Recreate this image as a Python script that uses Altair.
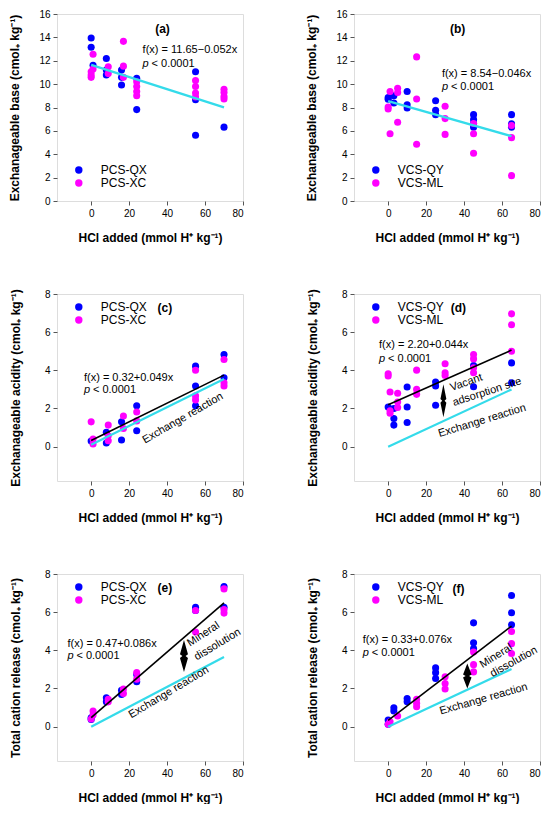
import altair as alt
import pandas as pd

BLUE = "#0000ff"
MAG = "#ff00ff"
CYAN = "#34dbea"
FONT = "Liberation Sans"

# ---------------- data ----------------
# (a) exchangeable base, PCS
a_s1_x = [0, 0, 1, 8, 8, 8, 16, 16, 16, 24, 24, 55, 55, 55, 70]
a_s1_y = [13.94, 13.15, 11.62, 12.19, 11.2, 10.78, 11.2, 10.58, 9.93, 10.5, 7.82, 11.06, 8.66, 5.62, 6.32]
a_s2_x = [1, 1, 0, 0, 0, 9, 9, 17, 17, 17, 24, 24, 24, 24, 55, 55, 55, 55, 70, 70, 70, 70]
a_s2_y = [12.56, 11.3, 11.06, 10.78, 10.58, 11.48, 10.9, 13.66, 11.54, 10.58, 10.21, 9.79, 9.37, 9.0,
          10.3, 9.79, 9.23, 8.9, 9.56, 9.28, 8.94, 8.72]
# (b) exchangeable base, VCS
b_s1_x = [0, 0, 3, 3, 10, 10, 10, 25, 25, 25, 45, 45, 45, 45, 65, 65, 65]
b_s1_y = [8.86, 8.7, 9.0, 8.38, 9.37, 8.24, 7.96, 8.58, 7.76, 7.39, 7.39, 6.97, 6.63, 6.32, 7.39, 6.6, 6.32]
b_s2_x = [0, 0, 1, 1, 5, 5, 5, 15, 15, 15, 30, 30, 30, 45, 45, 45, 65, 65, 65]
b_s2_y = [8.04, 7.87, 9.37, 5.76, 9.65, 9.28, 6.74, 12.33, 8.72, 4.85, 8.1, 7.05, 5.7, 6.63, 5.76, 4.09,
          6.46, 5.42, 2.17]
# (c) exchangeable acidity, PCS
c_s1_x = [0, 8, 8, 16, 16, 24, 24, 55, 55, 55, 70, 70]
c_s1_y = [0.3, 0.75, 0.19, 1.3, 0.35, 2.14, 0.83, 4.22, 3.18, 2.14, 4.83, 3.61]
c_s2_x = [0, 1, 1, 9, 9, 9, 17, 17, 24, 24, 55, 55, 55, 70, 70, 70]
c_s2_y = [1.3, 0.4, 0.14, 1.13, 0.57, 0.31, 1.61, 0.95, 1.82, 1.35, 4.0, 2.66, 2.45, 4.57, 3.35, 3.18]
# (d) exchangeable acidity, VCS
d_s1_x = [0, 3, 3, 3, 10, 10, 10, 25, 25, 25, 45, 45, 65, 65]
d_s1_y = [2.08, 2.0, 1.48, 1.13, 3.13, 2.08, 1.27, 3.39, 3.18, 2.17, 4.25, 3.14, 4.39, 3.35]
d_s2_x = [0, 0, 1, 1, 1, 5, 5, 5, 15, 15, 15, 30, 30, 30, 45, 45, 45, 45, 65, 65, 65]
d_s2_y = [3.82, 3.7, 2.86, 1.88, 1.75, 2.8, 2.34, 2.05, 4.01, 3.0, 2.74, 4.34, 3.87, 3.73,
          4.83, 4.6, 4.13, 3.87, 6.96, 6.39, 5.0]
# (e) total cation release, PCS
e_s1_x = [0, 0, 8, 8, 16, 16, 24, 24, 55, 55, 70, 70]
e_s1_y = [0.47, 0.38, 1.51, 1.3, 1.91, 1.69, 2.73, 2.35, 6.26, 6.09, 7.34, 6.26]
e_s2_x = [0, 1, 1, 9, 9, 17, 17, 24, 24, 55, 55, 70, 70, 70]
e_s2_y = [0.4, 0.82, 0.61, 1.44, 1.3, 1.97, 1.74, 2.83, 2.49, 6.09, 4.96, 7.22, 6.14, 5.95]
# (f) total cation release, VCS
f_s1_x = [0, 0, 3, 3, 10, 10, 25, 25, 25, 45, 45, 45, 65, 65, 65]
f_s1_y = [0.35, 0.12, 0.99, 0.82, 1.48, 1.3, 3.08, 2.83, 2.52, 5.44, 4.4, 4.09, 6.87, 5.97, 5.34]
f_s2_x = [0, 1, 5, 15, 15, 15, 30, 30, 30, 45, 45, 45, 65, 65, 65]
f_s2_y = [0.12, 0.26, 0.56, 1.44, 1.22, 1.04, 2.61, 2.26, 1.97, 3.91, 3.25, 2.87, 4.99, 4.35, 3.83]

PCS = ["PCS-QX", "PCS-XC"]
VCS = ["VCS-QY", "VCS-ML"]

# regression lines (fitted) and exchange-reaction lines: endpoints
reg_x = {"a": [0, 70], "b": [0, 65], "c": [0, 70], "d": [0, 65], "e": [0, 70], "f": [0, 65]}
reg_y = {"a": [11.65, 8.01], "b": [8.54, 5.55], "c": [0.32, 3.75], "d": [2.20, 5.06],
         "e": [0.47, 6.49], "f": [0.33, 5.27]}
exch_x = {"c": [0, 70], "d": [0, 65], "e": [0, 70], "f": [0, 65]}
exch_y = {"c": [0.1, 3.55], "d": [0.0, 3.0], "e": [0.0, 3.65], "f": [0.0, 3.02]}

formulas = {"a": "f(x) = 11.65\u22120.052x", "b": "f(x) = 8.54\u22120.046x", "c": "f(x) = 0.32+0.049x",
            "d": "f(x) = 2.20+0.044x", "e": "f(x) = 0.47+0.086x", "f": "f(x) = 0.33+0.076x"}
form_x = {"a": 27.1, "b": 28.3, "c": -3.8, "d": -4.8, "e": -12.5, "f": -13.4}
form_y = {"a": 12.95, "b": 10.85, "c": 3.61, "d": 5.35, "e": 4.35, "f": 4.52}
pval_y = {"a": 11.75, "b": 9.75, "c": 2.97, "d": 4.6, "e": 3.7, "f": 3.88}

lab_x = {"a": 37.6, "b": 36.6, "c": 38.8, "d": 37.0, "e": 38.8, "f": 37.0}
lab_y = {"a": 14.7, "b": 14.7, "c": 7.25, "d": 7.25, "e": 7.25, "f": 7.2}

# rotated annotations: (text, x, y, angle)
notes = {
    "c": [("Exchange reaction", 48.3, 1.48, 330)],
    "d": [("Vacant", 41.2, 3.35, 341), ("adsorption site", 52.1, 2.86, 342),
          ("Exchange reaction", 49.5, 1.35, 343)],
    "e": [("Mineral", 59.2, 4.84, 327), ("dissolution", 66.6, 4.3, 329),
          ("Exchange reaction", 40.9, 1.79, 329)],
    "f": [("Mineral", 56.9, 3.7, 328), ("dissolution", 66.2, 3.39, 331),
          ("Exchange reaction", 50.3, 1.44, 344)],
}
# double arrows: x, y-centre, pixel height, half-width
arrows = {"d": (29.1, 2.4, 33, 0.18), "e": (48.9, 3.7, 32, 0.25), "f": (41.7, 2.66, 25, 0.34)}

XT = "HCl added (mmol H\u207a kg\u207b\u00b9)"
YT = {"a": "Exchanageable base (cmol\u208a kg\u207b\u00b9)",
      "b": "Exchanageable base (cmol\u208a kg\u207b\u00b9)",
      "c": "Exchanageable acidity (cmol\u208a kg\u207b\u00b9)",
      "d": "Exchanageable acidity (cmol\u208a kg\u207b\u00b9)",
      "e": "Total cation release (cmol\u208a kg\u207b\u00b9)",
      "f": "Total cation release (cmol\u208a kg\u207b\u00b9)"}

W = 186
H = 187


def panel(key, s1x, s1y, s2x, s2y, names, ydom, yvals, leg_y, ytp):
    xs = alt.Scale(domain=[-18, 80], nice=False, zero=False)
    ys = alt.Scale(domain=ydom, nice=False, zero=False)
    axis_common = dict(domain=False, grid=False, ticks=True, tickSize=4, tickColor="#555555",
                       tickWidth=1, labelFont=FONT, labelFontSize=10, labelColor="black",
                       labelPadding=3, labelOverlap=False, titleFont=FONT, titleFontSize=12,
                       titleFontWeight="bold", titleColor="black")
    xax = alt.Axis(values=[0, 20, 40, 60, 80], title=XT, titlePadding=14, **axis_common)
    yax = alt.Axis(values=yvals, title=YT[key], titlePadding=ytp, **axis_common)

    def X(f="x"):
        return alt.X(f + ":Q", scale=xs, axis=xax)

    def Y(f="y"):
        return alt.Y(f + ":Q", scale=ys, axis=yax)

    pts = pd.DataFrame({
        "x": s1x + s2x,
        "y": s1y + s2y,
        "s": [names[0]] * len(s1x) + [names[1]] * len(s2x),
        "o": list(range(len(s1x) + len(s2x))),
    })
    points = alt.Chart(pts).mark_circle(size=50, opacity=1).encode(
        x=X(), y=Y(),
        color=alt.Color("s:N", scale=alt.Scale(domain=names, range=[BLUE, MAG]),
                        legend=alt.Legend(orient="none", legendX=15.8, legendY=leg_y, title=None,
                                          symbolSize=55, symbolType="circle", labelFontSize=12,
                                          labelFont=FONT, labelOffset=16, padding=0, rowPadding=1,
                                          symbolStrokeWidth=0)),
        order=alt.Order("o:Q"),
    )
    layers = [points]

    if key in exch_x:
        ex = pd.DataFrame({"x": exch_x[key], "y": exch_y[key]})
        layers.append(alt.Chart(ex).mark_line(color=CYAN, strokeWidth=2.2).encode(x=X(), y=Y()))
        rcol, rw = "black", 1.6
    else:
        rcol, rw = CYAN, 2.4
    rg = pd.DataFrame({"x": reg_x[key], "y": reg_y[key]})
    layers.append(alt.Chart(rg).mark_line(color=rcol, strokeWidth=rw).encode(x=X(), y=Y()))

    ft = pd.DataFrame({"x": [form_x[key]], "y": [form_y[key]], "t": [formulas[key]],
                       "py": [pval_y[key]]})
    base = alt.Chart(ft)
    layers.append(base.mark_text(align="left", baseline="middle", fontSize=11, font=FONT).encode(
        x=X(), y=Y(), text="t:N"))
    layers.append(base.mark_text(align="left", baseline="middle", fontSize=11, font=FONT,
                                 fontStyle="italic", text="p").encode(x=X(), y=Y("py")))
    layers.append(base.mark_text(align="left", baseline="middle", fontSize=11, font=FONT,
                                 dx=9, text="< 0.0001").encode(x=X(), y=Y("py")))

    lb = pd.DataFrame({"x": [lab_x[key]], "y": [lab_y[key]], "t": ["(" + key + ")"]})
    layers.append(alt.Chart(lb).mark_text(align="center", baseline="middle", fontSize=12,
                                          fontWeight="bold", font=FONT).encode(
        x=X(), y=Y(), text="t:N"))

    for (t, nx, ny, ang) in notes.get(key, []):
        nd = pd.DataFrame({"x": [nx], "y": [ny], "t": [t]})
        layers.append(alt.Chart(nd).mark_text(align="center", baseline="middle", fontSize=11,
                                              font=FONT, angle=ang).encode(
            x=X(), y=Y(), text="t:N"))

    if key in arrows:
        axx, ayy, hpx, hw = arrows[key]
        path = ("M0,-1L{w},-0.12L{n},0L{w},0.12L0,1L-{w},0.12L-{n},0L-{w},-0.12Z"
                .format(w=hw, n=round(hw * 0.4, 3)))
        ad = pd.DataFrame({"x": [axx], "y": [ayy]})
        layers.append(alt.Chart(ad).mark_point(shape=path, filled=True, color="black", opacity=1,
                                               size=hpx * hpx, strokeWidth=0).encode(
            x=X(), y=Y()))

    return alt.layer(*layers).properties(width=W, height=H)


TOP = [0, 16]
TOPV = [0, 2, 4, 6, 8, 10, 12, 14, 16]
LOW = [-1.8, 8]
LOWV = [0, 2, 4, 6, 8]

pa = panel("a", a_s1_x, a_s1_y, a_s2_x, a_s2_y, PCS, TOP, TOPV, 150, 17)
pb = panel("b", b_s1_x, b_s1_y, b_s2_x, b_s2_y, VCS, TOP, TOPV, 150, 17)
pc = panel("c", c_s1_x, c_s1_y, c_s2_x, c_s2_y, PCS, LOW, LOWV, 7, 22)
pd_ = panel("d", d_s1_x, d_s1_y, d_s2_x, d_s2_y, VCS, LOW, LOWV, 7, 22)
pe = panel("e", e_s1_x, e_s1_y, e_s2_x, e_s2_y, PCS, LOW, LOWV, 7, 22)
pf = panel("f", f_s1_x, f_s1_y, f_s2_x, f_s2_y, VCS, LOW, LOWV, 7, 22)

chart = alt.concat(pa, pb, pc, pd_, pe, pf, columns=2, spacing={"row": 93, "column": 111},
                   bounds="flush").resolve_scale(
    x="independent", y="independent", color="independent"
).resolve_legend(color="independent").properties(
    padding={"left": 0, "top": 0, "right": 0, "bottom": 0}
).configure_view(
    stroke="#555555", strokeWidth=1
).configure(background="white")

chart.save("out.html", embed_options={"renderer": "svg", "actions": False})
